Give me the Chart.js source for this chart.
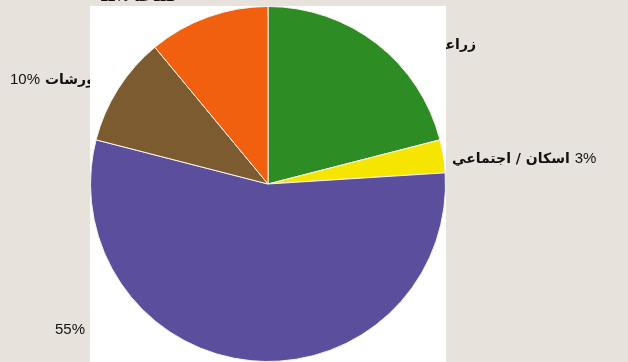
<!DOCTYPE html>
<html>
<head>
<meta charset="utf-8">
<script src="https://cdn.jsdelivr.net/npm/chart.js@4.4.0/dist/chart.umd.min.js"></script>
<style>
  html, body { margin: 0; padding: 0; background: #e8e2dd; }
  #wrap { width: 628px; height: 362px; }
</style>
</head>
<body>
<div id="wrap"><canvas id="pie" width="628" height="362"></canvas></div>
<script>
// Land-use shares, clockwise from 12 o'clock
const categories = ['زراعة', 'اسكان / اجتماعي', 'تجاري', 'ورشات', 'صناعة'];
const shares = [21, 3, 55, 10, 11];
const sliceColors = ['#2e8c24', '#f6e500', '#5b4f9d', '#7c5b31', '#f0600e'];

// Where each slice's caption sits around the panel
const captionSpots = [
  { anchor: 'right', x: 476, y: 45, pctFirst: true },
  { anchor: 'left',  x: 452, y: 159, pctFirst: false },
  { anchor: 'left',  x: 55,  y: 330, pctFirst: true },
  { anchor: 'left',  x: 10,  y: 80,  pctFirst: true },
  { anchor: 'left',  x: 100, y: -3,  pctFirst: true }
];

const pctFont = '15px "Liberation Sans", Arial, sans-serif';
const nameFont = 'bold 14px "DejaVu Sans", sans-serif';

function drawCaptions(ctx) {
  ctx.fillStyle = '#111111';
  ctx.textBaseline = 'middle';
  categories.forEach((name, i) => {
    const spot = captionSpots[i];
    const pct = shares[i] + '%';
    const gap = 5;
    ctx.font = pctFont;
    const pw = ctx.measureText(pct).width;
    ctx.font = nameFont;
    ctx.direction = 'rtl';
    const nw = ctx.measureText(name).width;
    ctx.direction = 'ltr';
    const total = pw + gap + nw;
    const left = spot.anchor === 'left' ? spot.x : spot.x - total;
    const pctX = spot.pctFirst ? left : left + nw + gap;
    const nameX = spot.pctFirst ? left + pw + gap : left;
    ctx.textAlign = 'left';
    ctx.font = pctFont;
    ctx.direction = 'ltr';
    ctx.fillText(pct, pctX, spot.y);
    ctx.font = nameFont;
    ctx.direction = 'rtl';
    ctx.textAlign = 'left';
    ctx.fillText(name, nameX, spot.y);
    ctx.direction = 'ltr';
  });
}

// Beige page, captions, then the white panel the pie sits on
const backdrop = {
  id: 'backdrop',
  beforeDraw(chart) {
    const { ctx, chartArea } = chart;
    ctx.save();
    ctx.fillStyle = '#e8e2dd';
    ctx.fillRect(0, 0, chart.width, chart.height);
    drawCaptions(ctx);
    ctx.fillStyle = '#ffffff';
    ctx.fillRect(chartArea.left, chartArea.top, chartArea.right - chartArea.left, chartArea.bottom - chartArea.top);
    ctx.restore();
  }
};

new Chart(document.getElementById('pie'), {
  type: 'pie',
  data: {
    labels: categories,
    datasets: [{
      data: shares,
      backgroundColor: sliceColors,
      borderColor: '#f7f2e8',
      borderWidth: 1
    }]
  },
  options: {
    responsive: false,
    animation: false,
    events: [],
    layout: { padding: { left: 90, right: 182, top: 6, bottom: 0 } },
    plugins: {
      legend: { display: false },
      tooltip: { enabled: false },
      title: { display: false }
    }
  },
  plugins: [backdrop]
});
</script>
</body>
</html>
